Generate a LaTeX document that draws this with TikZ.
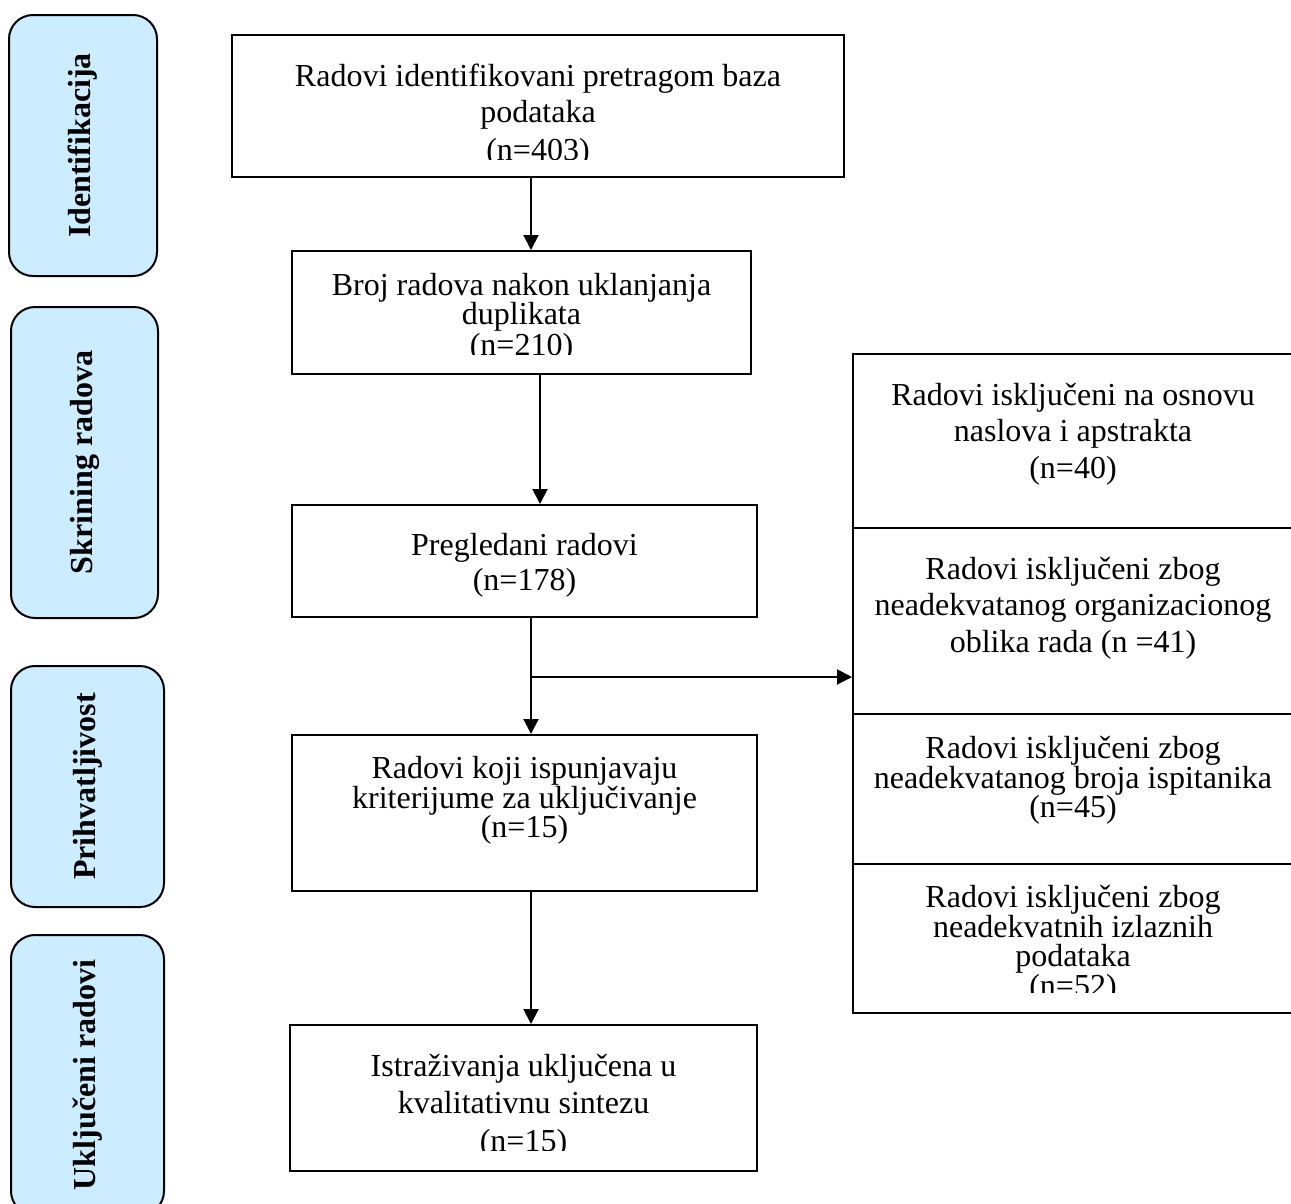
\documentclass[tikz,border=0pt]{standalone}
\usepackage{fontspec}
\setmainfont{Liberation Serif}
\usetikzlibrary{arrows.meta}
\definecolor{phase}{RGB}{204,236,255}
\tikzset{
  box/.style={draw=black, line width=2pt, fill=white, inner sep=0pt},
  phasebox/.style={draw=black, line width=2pt, fill=phase, rounded corners=24pt, inner sep=0pt},
  txt/.style={anchor=base, inner sep=0pt, font=\fontsize{32}{37}\selectfont},
  phasetxt/.style={rotate=90, inner sep=0pt, font=\fontsize{32}{37}\selectfont\bfseries},
  arr/.style={line width=2pt, -{Triangle[length=15pt,width=15pt]}},
}
\begin{document}
\begin{tikzpicture}[x=1pt,y=-1pt]
\useasboundingbox (0,0) rectangle (1291,1203);

% phase labels
\node[phasebox, minimum width=148, minimum height=261] (P1) at (83,145.5) {};
\node[phasebox, minimum width=147, minimum height=311] (P2) at (84.5,462.5) {};
\node[phasebox, minimum width=153, minimum height=241] (P3) at (87.5,786.5) {};
\node[phasebox, minimum width=153, minimum height=280] (P4) at (87.5,1075) {};
\node[phasetxt] (p1) at (P1.center) {Identifikacija};
\node[phasetxt] (p2) at (P2.center) {Skrining radova};
\node[phasetxt] (p3) at (P3.center) {Prihvatljivost};
\node[phasetxt] (p4) at (P4.center) {Uključeni radovi};

% main boxes
\node[box, minimum width=612, minimum height=142] (A) at (538,106) {};
\node[box, minimum width=459, minimum height=123] (B) at (521.5,312.5) {};
\node[box, minimum width=465, minimum height=112] (C) at (524.5,561) {};
\node[box, minimum width=465, minimum height=156] (D) at (524.5,813) {};
\node[box, minimum width=467, minimum height=146] (E) at (523.5,1098) {};

% exclusion stack
\node[box, minimum width=440, minimum height=174] (S1) at (1073,441) {};
\node[box, minimum width=440, minimum height=186] (S2) at (1073,621) {};
\node[box, minimum width=440, minimum height=150] (S3) at (1073,789) {};
\node[box, minimum width=440, minimum height=149] (S4) at (1073,938.5) {};

% texts
\begin{scope}
\clip (232,35) rectangle (844,159);
\node[txt] (a1) at (538,86) {Radovi identifikovani pretragom baza};
\node[txt] (a2) at (538,122) {podataka};
\node[txt] (a3) at (538,160) {(n=403)};
\end{scope}
\begin{scope}
\clip (292,251) rectangle (751,354);
\node[txt] (b1) at (521.5,295) {Broj radova nakon uklanjanja};
\node[txt] (b2) at (521.5,324.5) {duplikata};
\node[txt] (b3) at (521.5,355) {(n=210)};
\end{scope}
\node[txt] (c1) at (524.5,555) {Pregledani radovi};
\node[txt] (c2) at (524.5,590) {(n=178)};
\node[txt] (d1) at (524.5,778) {Radovi koji ispunjavaju};
\node[txt] (d2) at (524.5,808) {kriterijume za uključivanje};
\node[txt] (d3) at (524.5,837) {(n=15)};
\begin{scope}
\clip (290,1025) rectangle (757,1150);
\node[txt] (e1) at (523.5,1076) {Istraživanja uključena u};
\node[txt] (e2) at (523.5,1113) {kvalitativnu sintezu};
\node[txt] (e3) at (523.5,1151) {(n=15)};
\end{scope}

\node[txt] (s11) at (1073,405) {Radovi isključeni na osnovu};
\node[txt] (s12) at (1073,441) {naslova i apstrakta};
\node[txt] (s13) at (1073,478) {(n=40)};
\node[txt] (s21) at (1073,579) {Radovi isključeni zbog};
\node[txt] (s22) at (1073,615) {neadekvatanog organizacionog};
\node[txt] (s23) at (1073,652) {oblika rada (n =41)};
\node[txt] (s31) at (1073,758) {Radovi isključeni zbog};
\node[txt] (s32) at (1073,788) {neadekvatanog broja ispitanika};
\node[txt] (s33) at (1073,817) {(n=45)};
\begin{scope}
\clip (853,864) rectangle (1293,992);
\node[txt] (s41) at (1073,907) {Radovi isključeni zbog};
\node[txt] (s42) at (1073,937) {neadekvatnih izlaznih};
\node[txt] (s43) at (1073,966) {podataka};
\node[txt] (s44) at (1073,996) {(n=52)};
\end{scope}

% connectors
\coordinate (xa) at (531,0);
\coordinate (xb) at (540,0);
\coordinate (j) at (531,677);
\draw[arr] (A.south -| xa) -- (B.north -| xa);
\draw[arr] (B.south -| xb) -- (C.north -| xb);
\draw[arr] (C.south -| xa) -- (D.north -| xa);
\draw[arr] (j) -- (j -| S2.west);
\draw[arr] (D.south -| xa) -- (E.north -| xa);
\end{tikzpicture}
\end{document}
